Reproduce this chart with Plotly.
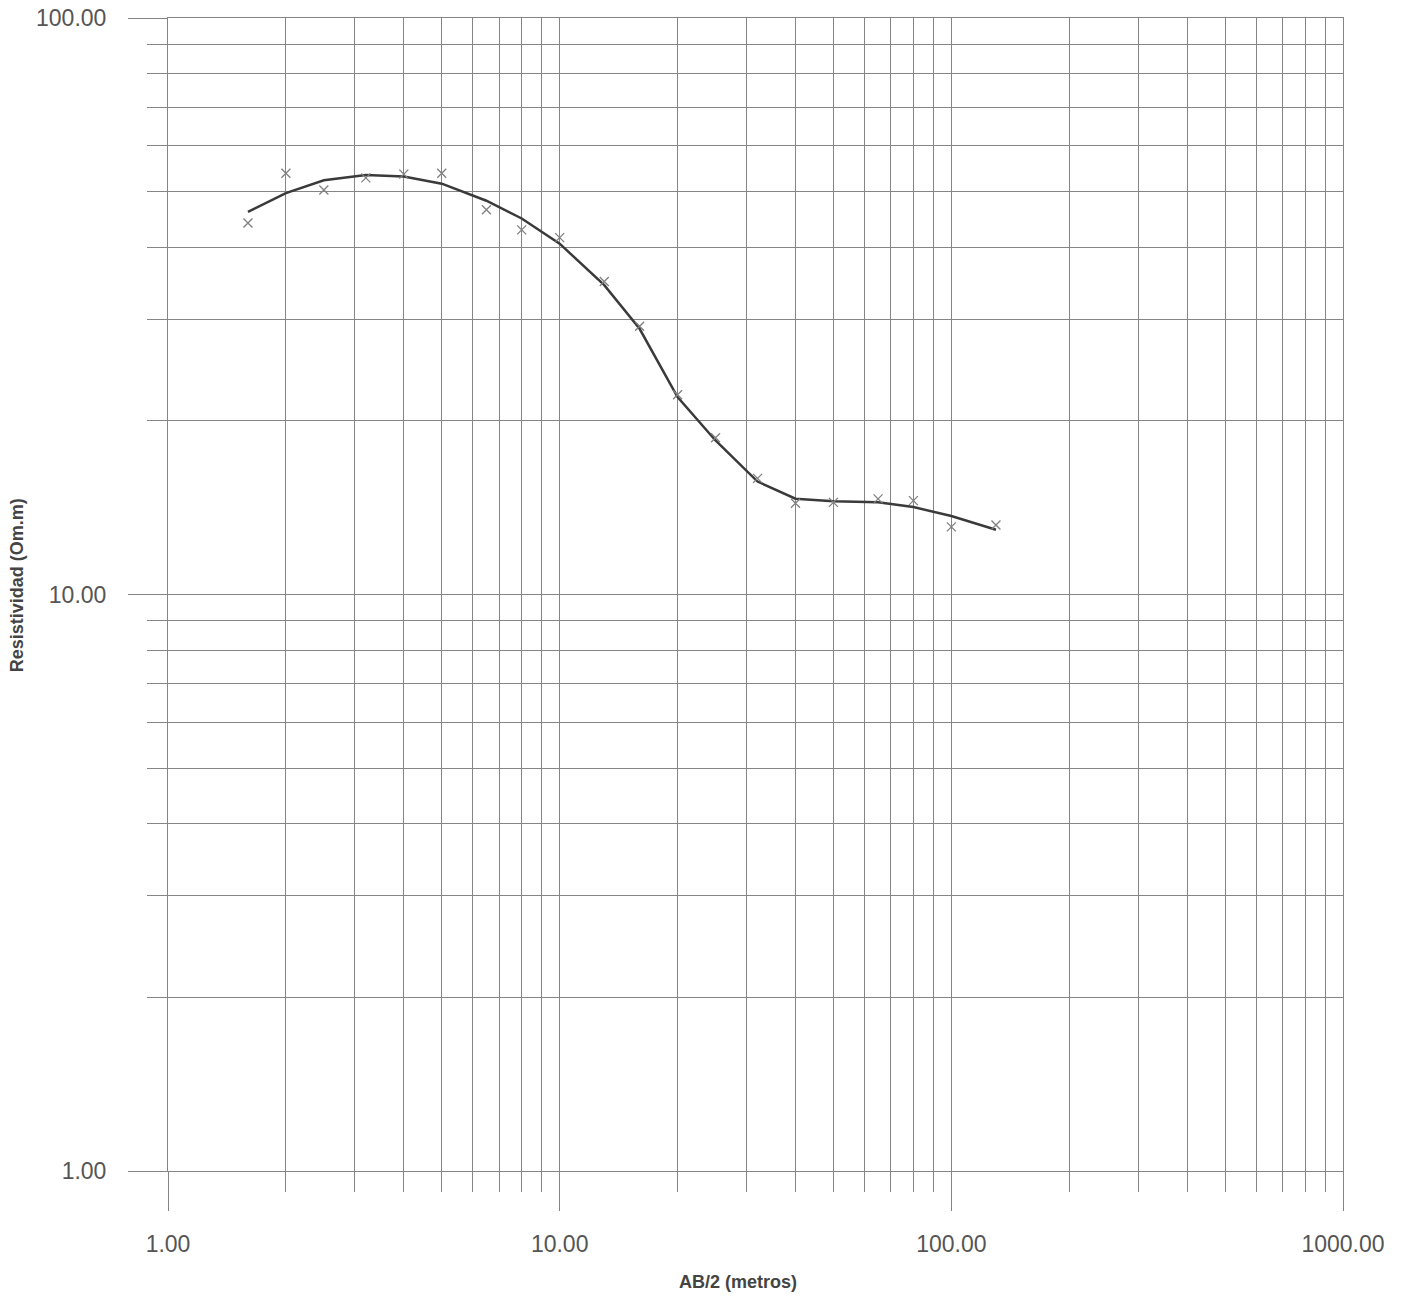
import plotly.graph_objects as go

# AB/2 spacing (m)
ab2 = [1.6, 2, 2.5, 3.2, 4, 5, 6.5, 8, 10, 13, 16, 20, 25, 32, 40, 50, 65, 80, 100, 130]
# Measured apparent resistivity (crosses)
rho_obs = [44.1, 53.8, 50.3, 52.8, 53.6, 53.8, 46.5, 42.9, 41.6, 34.9, 29.2, 22.2,
           18.7, 15.9, 14.4, 14.45, 14.65, 14.55, 13.1, 13.2]
# Fitted model curve
rho_fit = [46.1, 49.7, 52.3, 53.4, 53.1, 51.6, 48.2, 44.9, 40.6, 34.4, 28.9, 22.0,
           18.5, 15.7, 14.66, 14.52, 14.46, 14.18, 13.68, 12.95]

GRID = "#858585"
FONT = "Liberation Sans, Arial, sans-serif"

fig = go.Figure()
fig.add_trace(go.Scatter(x=ab2, y=rho_fit, mode="lines",
                         line=dict(color="#3a3a3a", width=2.5), showlegend=False))
fig.add_trace(go.Scatter(x=ab2, y=rho_obs, mode="markers",
                         marker=dict(symbol="x-thin", size=9,
                                     line=dict(color="#808080", width=1.3)),
                         showlegend=False))

axis_common = dict(
    type="log", dtick=1, tickformat=".2f", automargin=False,
    showgrid=True, gridcolor=GRID, gridwidth=1,
    ticks="outside", ticklen=39, tickcolor=GRID, tickwidth=1,
    showline=True, linecolor=GRID, linewidth=1, mirror=True,
    zeroline=False,
    tickfont=dict(family=FONT, size=23, color="#555555"),
    minor=dict(dtick="D1", showgrid=True, gridcolor=GRID, gridwidth=1,
               ticks="outside", ticklen=20, tickcolor=GRID, tickwidth=1),
)

fig.update_xaxes(range=[0, 3], ticklabelstandoff=13, **axis_common)
fig.update_yaxes(range=[0, 2], ticklabelstandoff=17, **axis_common)

fig.add_annotation(text="<b>AB/2 (metros)</b>", xref="paper", yref="paper",
                   x=0.485, y=-0.0963, xanchor="center", yanchor="middle",
                   showarrow=False,
                   font=dict(family=FONT, size=18, color="#444444"))
fig.add_annotation(text="<b>Resistividad (Om.m)</b>", xref="paper", yref="paper",
                   x=-0.1285, y=0.508, xanchor="center", yanchor="middle",
                   showarrow=False, textangle=-90,
                   font=dict(family=FONT, size=18, color="#444444"))

fig.update_layout(
    width=1403, height=1300,
    margin=dict(l=168, r=60, t=18, b=129),
    paper_bgcolor="white", plot_bgcolor="white",
)

fig.write_html("out.html")
